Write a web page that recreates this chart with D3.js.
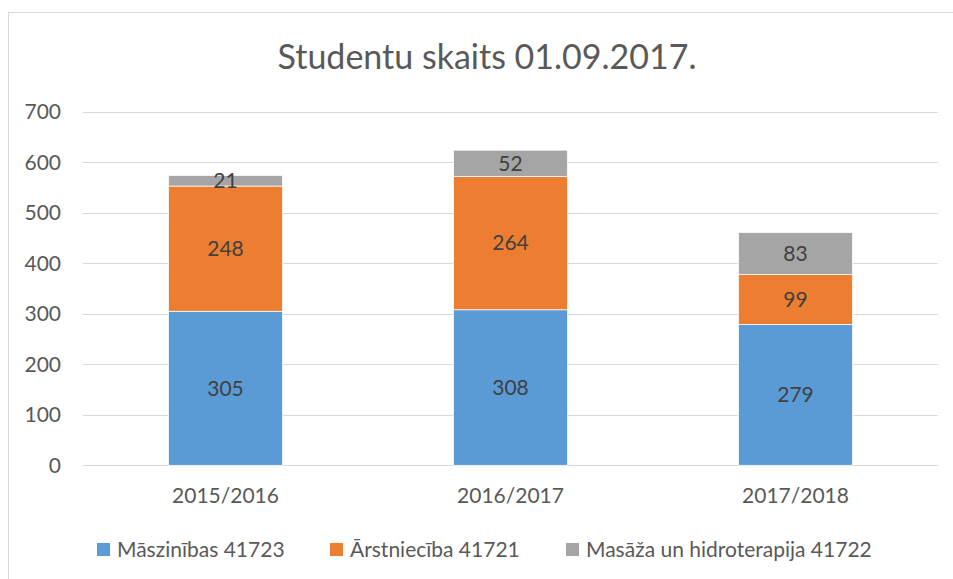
<!DOCTYPE html>
<html>
<head>
<meta charset="utf-8">
<script src="https://cdn.jsdelivr.net/npm/d3@7"></script>
<style>
  body { margin: 0; background: #fff; }
  svg { display: block; font-family: Lato, "Open Sans", sans-serif; }
</style>
</head>
<body>
<div id="chart"></div>
<script>
const categories = ["2015/2016", "2016/2017", "2017/2018"];
const seriesNames = ["Māszinības 41723", "Ārstniecība 41721", "Masāža un hidroterapija 41722"];
const maszinibas = [305, 308, 279];
const arstnieciba = [248, 264, 99];
const masaza = [21, 52, 83];
const yTicks = [0, 100, 200, 300, 400, 500, 600, 700];
const colors = ["#5B9BD5", "#ED7D31", "#A5A5A5"];

const width = 953, height = 579;
const margin = { top: 112, right: 15, bottom: 114, left: 83 };

const svg = d3.select("#chart").append("svg")
  .attr("width", width)
  .attr("height", height);

// chart border
svg.append("rect")
  .attr("x", 8.5).attr("y", 12.5)
  .attr("width", 960).attr("height", 600)
  .attr("fill", "none")
  .attr("stroke", "#d9d9d9");

svg.append("text")
  .attr("x", 487).attr("y", 69)
  .attr("text-anchor", "middle")
  .attr("fill", "#595959")
  .style("font-size", "34px")
  .text("Studentu skaits 01.09.2017.");

const x = d3.scaleBand()
  .domain(categories)
  .range([margin.left, width - margin.right])
  .paddingInner(0.6)
  .paddingOuter(0.3);

const y = d3.scaleLinear()
  .domain([0, 700])
  .range([465.3, 111.8]);

// gridlines
svg.append("g")
  .selectAll("line")
  .data(yTicks)
  .join("line")
  .attr("x1", margin.left).attr("x2", 938)
  .attr("y1", (d) => Math.round(y(d)) + 0.5)
  .attr("y2", (d) => Math.round(y(d)) + 0.5)
  .attr("stroke", "#d9d9d9")
  .attr("stroke-width", 1);

// y labels
svg.append("g")
  .selectAll("text")
  .data(yTicks)
  .join("text")
  .attr("x", 61)
  .attr("y", (d) => y(d))
  .attr("dy", "0.35em")
  .attr("text-anchor", "end")
  .attr("fill", "#595959")
  .style("font-size", "21px")
  .text((d) => d);

const table = categories.map((c, i) => ({
  cat: c,
  s0: maszinibas[i],
  s1: arstnieciba[i],
  s2: masaza[i],
}));
const stack = d3.stack().keys(["s0", "s1", "s2"])(table);

const layers = svg.append("g")
  .selectAll("g")
  .data(stack)
  .join("g")
  .attr("fill", (d, i) => colors[i]);

layers.selectAll("rect")
  .data((d) => d)
  .join("rect")
  .attr("x", (d) => x(d.data.cat))
  .attr("y", (d) => y(d[1]))
  .attr("width", x.bandwidth())
  .attr("height", (d) => y(d[0]) - y(d[1]))
  .attr("stroke", "#fff")
  .attr("stroke-width", 0.75);

layers.selectAll("text")
  .data((d) => d)
  .join("text")
  .attr("x", (d) => x(d.data.cat) + x.bandwidth() / 2)
  .attr("y", (d) => (y(d[0]) + y(d[1])) / 2)
  .attr("dy", "0.35em")
  .attr("text-anchor", "middle")
  .attr("fill", "#404040")
  .style("font-size", "21px")
  .text((d) => d[1] - d[0]);

// x labels
svg.append("g")
  .selectAll("text")
  .data(categories)
  .join("text")
  .attr("x", (d) => x(d) + x.bandwidth() / 2)
  .attr("y", 496)
  .attr("dy", "0.35em")
  .attr("text-anchor", "middle")
  .attr("fill", "#595959")
  .style("font-size", "21px")
  .text((d) => d);

// legend
const legendX = [97, 330, 566];
const legend = svg.append("g")
  .selectAll("g")
  .data(seriesNames)
  .join("g")
  .attr("transform", (d, i) => `translate(${legendX[i]},543)`);

legend.append("rect")
  .attr("width", 13).attr("height", 13)
  .attr("fill", (d, i) => colors[i]);

legend.append("text")
  .attr("x", 20).attr("y", 6.5)
  .attr("dy", "0.35em")
  .attr("fill", "#595959")
  .style("font-size", "21px")
  .text((d) => d);
</script>
</body>
</html>
